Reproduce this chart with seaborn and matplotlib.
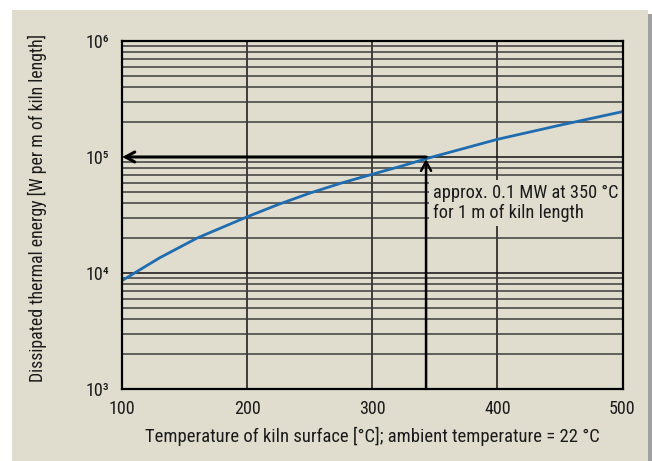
import numpy as np
import pandas as pd
import seaborn as sns
import matplotlib
matplotlib.use("Agg")
import matplotlib.pyplot as plt
from matplotlib import font_manager
from matplotlib.ticker import LogLocator, NullFormatter, FixedLocator
from matplotlib.patches import Rectangle

# ---- data ----
temperature = [100, 130, 160, 200, 225, 250, 275, 300, 325, 345, 400, 450, 500]
heat_loss = [8.6e3, 1.35e4, 2.0e4, 3.05e4, 3.9e4, 4.88e4, 5.95e4, 7.1e4, 8.45e4, 9.8e4,
             1.42e5, 1.88e5, 2.46e5]
x_ticks = [100, 200, 300, 400, 500]
y_ticks = [1e3, 1e4, 1e5, 1e6]
y_tick_labels = ["10³", "10⁴", "10⁵", "10⁶"]
marker_temp = 343
marker_value = 1e5
note_text = "approx. 0.1 MW at 350 °C\nfor 1 m of kiln length"
x_label = "Temperature of kiln surface [°C]; ambient temperature = 22 °C"
y_label = "Dissipated thermal energy [W per m of kiln length]"

df = pd.DataFrame({"T": temperature, "Q": heat_loss})

sns.set_style("white")

# pick a condensed sans font if available
entries = font_manager.fontManager.ttflist
chosen = None
for pref in ["Liberation Sans Narrow", "Roboto Condensed", "Open Sans Condensed",
             "Noto Sans Condensed", "Arial Narrow"]:
    for f in entries:
        if f.name == pref and f.weight in (400, "normal", "regular") and f.style == "normal":
            chosen = f
            break
    if chosen:
        break
if chosen is None:
    for f in entries:
        if (f.name in ("DejaVu Sans", "Noto Sans", "Open Sans", "Roboto")
                and str(f.stretch) in ("condensed", "semi-condensed")
                and f.style == "normal" and f.weight in (400, "normal", "regular")):
            chosen = f
            break
if chosen is not None:
    fam, stretch, k = chosen.name, chosen.stretch, 1.0
else:
    fam, stretch, k = "Liberation Sans", "normal", 0.9

plt.rcParams["font.family"] = [fam, "DejaVu Sans"]
plt.rcParams["font.stretch"] = stretch

bg = "#e0ddcf"
W, H = 652, 461
fig = plt.figure(figsize=(W / 100, H / 100), dpi=100, facecolor="white")

# beige panel + shadow
fig.patches.append(Rectangle((648 / W, 0), 4 / W, (H - 14) / H, transform=fig.transFigure,
                             facecolor="#a0a0a0", edgecolor="none", zorder=-20))
fig.patches.append(Rectangle((12 / W, 0), (648 - 12) / W, (H - 10) / H, transform=fig.transFigure,
                             facecolor=bg, edgecolor="none", zorder=-10))

ax = fig.add_axes([122 / W, 1 - 389 / H, (622.5 - 122) / W, (389 - 41) / H])
ax.set_zorder(1)
ax.set_facecolor(bg)
ax.set_yscale("log")
ax.set_xlim(100, 500)
ax.set_ylim(1e3, 1e6)

sns.lineplot(data=df, x="T", y="Q", ax=ax, color="#1f6db0", lw=2.0, zorder=4)

ax.xaxis.set_major_locator(FixedLocator(x_ticks))
ax.set_yticks(y_ticks)
ax.set_yticklabels(y_tick_labels)
ax.yaxis.set_minor_locator(LogLocator(base=10, subs=range(2, 10)))
ax.yaxis.set_minor_formatter(NullFormatter())
ax.tick_params(axis="both", which="both", length=0, labelsize=13 * k, colors="#1a1a1a")
ax.tick_params(axis="y", pad=9)
ax.tick_params(axis="x", pad=8)

ax.set_axisbelow(True)
ax.grid(which="major", axis="both", color="#111111", lw=1.1)
ax.grid(which="minor", axis="y", color="#3c3c3c", lw=1.1)

for s in ax.spines.values():
    s.set_color("black")
    s.set_linewidth(1.6)
    s.set_zorder(6)

# arrows
ax.annotate("", xy=(100.3, marker_value), xytext=(marker_temp, marker_value),
            arrowprops=dict(arrowstyle="->,head_length=0.55,head_width=0.3", lw=2.2,
                            color="black", shrinkA=0, shrinkB=0, mutation_scale=12),
            zorder=5)
ax.annotate("", xy=(marker_temp, 9.6e4), xytext=(marker_temp, 1e3),
            arrowprops=dict(arrowstyle="->,head_length=0.55,head_width=0.3", lw=1.8,
                            color="black", shrinkA=0, shrinkB=0, mutation_scale=12),
            zorder=5)

ax.text(348.5, 5.85e4, note_text, ha="left", va="top", fontsize=13.2 * k, color="#1a1a1a",
        linespacing=1.1,
        bbox=dict(boxstyle="square,pad=0.22", fc=bg, ec="none"), zorder=3)

ax.set_xlabel(x_label, fontsize=13.4 * k, color="#1a1a1a")
ax.set_ylabel(y_label, fontsize=12.8 * k, color="#1a1a1a")
ax.xaxis.set_label_coords(0.5, -0.11)
ax.yaxis.set_label_coords(-0.15, 0.52)

fig.savefig("out.png", dpi=100, facecolor="white")
